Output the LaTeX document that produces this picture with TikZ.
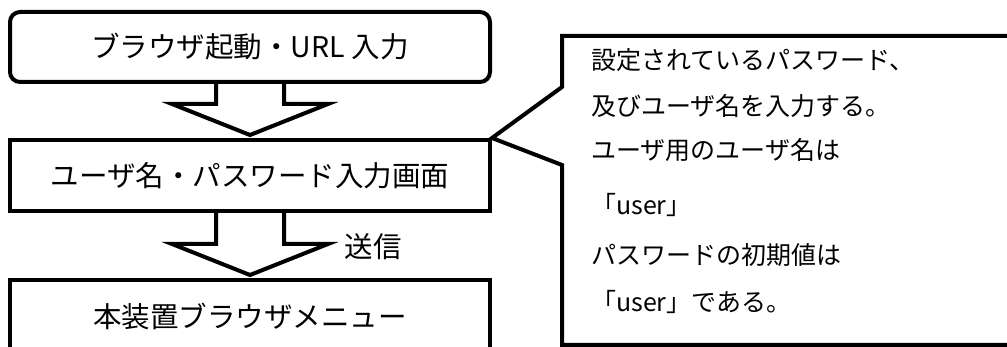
\documentclass[tikz,border=0pt]{standalone}
\usepackage{fontspec}
\setmainfont{Noto Sans CJK JP}
\usetikzlibrary{calc}

\begin{document}
\begin{tikzpicture}[x=1pt, y=-1pt,
		stepbox/.style={draw, line width=4pt, minimum width=480pt, minimum height=70pt, inner sep=0pt, font=\fontsize{28.5}{34}\selectfont},
		blockarrow/.style={line width=4pt, line join=miter},
		noteline/.style={anchor=base west, inner sep=0pt, font=\fontsize{25}{30}\selectfont}
	]
	\useasboundingbox (0,0) rectangle (1007,347);
	\clip (0,0) rectangle (1007,347);

	\node[stepbox, rounded corners=10pt] (start) at (250,47) {ブラウザ起動・URL 入力};
	\node[stepbox, minimum height=71pt] (login) at (250,175.5) {ユーザ名・パスワード入力画面};
	\node[stepbox, minimum height=72pt, anchor=north] (menu) at (250,278) {本装置ブラウザメニュー};

	\draw[blockarrow] ($(start.south)+(-34,0)$) |- ($(login.north)+(-78,-34)$) -- ($(login.north)+(0,-3)$) -- ($(login.north)+(78,-34)$) -| ($(start.south)+(34,0)$);
	\draw[blockarrow] ($(login.south)+(-34,0)$) |- ($(menu.north)+(-78,-34)$) -- ($(menu.north)+(0,-3)$) -- ($(menu.north)+(78,-34)$) -| ($(login.south)+(34,0)$);

	\node[inner sep=0pt, font=\fontsize{28.5}{34}\selectfont] (send) at (373,247) {送信};

	% callout
	\draw[line width=4pt, line join=miter] (1030,36) -- (562,36) -- (562,87) -- (login.north east) -- (562,165) -- (562,345) -- (1030,345);

	\node[noteline] (note1) at (591,70) {設定されているパスワード、};
	\node[noteline] (note2) at (591,116) {及びユーザ名を入力する。};
	\node[noteline] (note3) at (591,160) {ユーザ用のユーザ名は};
	\node[noteline] (note4) at (591,215) {「user」};
	\node[noteline] (note5) at (591,265) {パスワードの初期値は};
	\node[noteline] (note6) at (591,312) {「user」である。};
\end{tikzpicture}
\end{document}
